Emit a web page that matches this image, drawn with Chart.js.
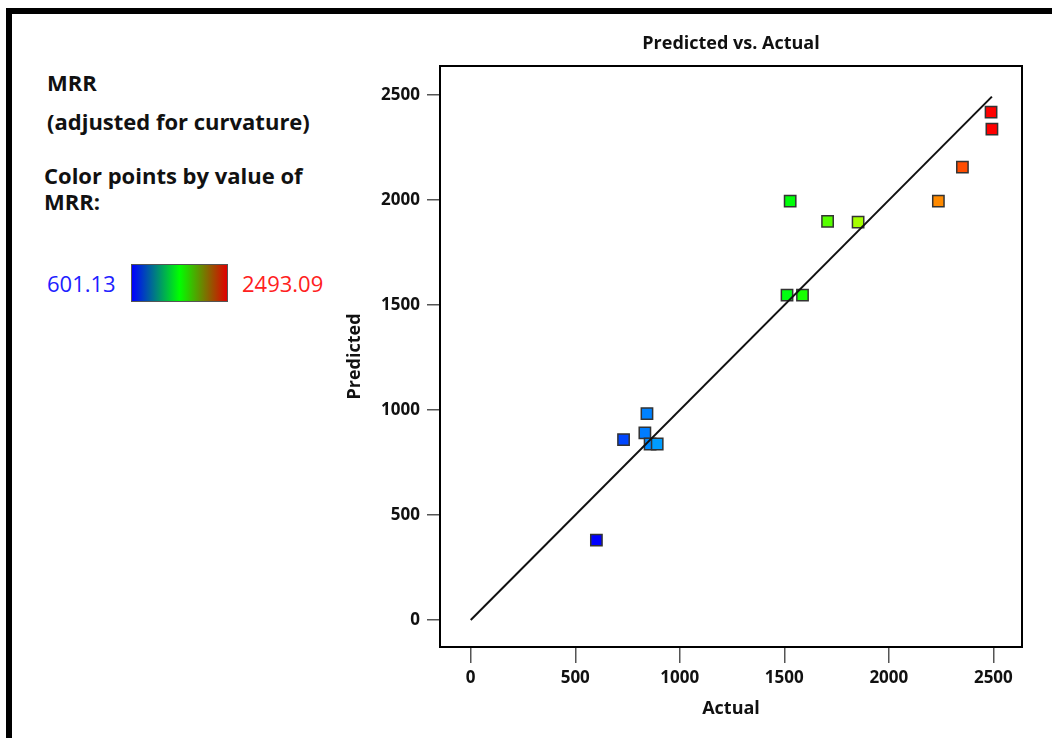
<!DOCTYPE html>
<html>
<head>
<meta charset="utf-8">
<title>Predicted vs. Actual</title>
<script src="https://cdn.jsdelivr.net/npm/chart.js@4.4.1/dist/chart.umd.min.js"></script>
<style>
  body { margin: 0; background: #fff; font-family: "Open Sans", sans-serif; }
  #page { position: relative; width: 1052px; height: 738px; overflow: hidden; background: #fff; }
  .frame { position: absolute; left: 6px; top: 8px; width: 1100px; height: 800px;
           border-top: 6px solid #000; border-left: 6px solid #000; }
  .lbl { position: absolute; white-space: nowrap; line-height: 1; color: #111; }
  .b { font-weight: 700; font-size: 22px; }
  .num { font-size: 22px; }
  .ramp { position: absolute; left: 131px; top: 264px; width: 95px; height: 36px;
          border: 1px solid #555; background: linear-gradient(to right, #0000ff, #00ff00, #e00000); }
  #chartPred { position: absolute; left: 330px; top: 20px; }
</style>
</head>
<body>
<div id="page">
  <div class="frame"></div>
  <div class="lbl b" style="left:47px;top:71px">MRR</div>
  <div class="lbl b" style="left:47px;top:110px">(adjusted for curvature)</div>
  <div class="lbl b" style="left:44px;top:164px">Color points by value of</div>
  <div class="lbl b" style="left:44px;top:190px">MRR:</div>
  <div class="lbl num" id="lowLbl" style="left:47px;top:272px;color:#2020ff"></div>
  <div class="ramp"></div>
  <div class="lbl num" id="highLbl" style="left:242px;top:272px;color:#ff2020"></div>
  <canvas id="chartPred" width="722" height="718"></canvas>
</div>
<script>
// MRR runs, actual vs predicted
const actual    = [601.13, 731, 843, 833, 858, 892, 1528, 1513, 1587, 1707, 1853, 2237, 2352, 2489, 2493.09];
const predicted = [380, 859, 983, 891, 838, 838, 1995, 1547, 1547, 1899, 1895, 1995, 2157, 2419, 2338];
const xTicks = [0, 500, 1000, 1500, 2000, 2500];
const yTicks = [0, 500, 1000, 1500, 2000, 2500];
const mrrMin = 601.13;
const mrrMax = 2493.09;
const fitLine = [0, 2493.09];

document.getElementById('lowLbl').textContent = mrrMin.toFixed(2);
document.getElementById('highLbl').textContent = mrrMax.toFixed(2);

// blue -> cyan -> green -> yellow -> red
function colorFor(v) {
    const stops = [[0,0,255],[0,255,255],[0,255,0],[255,255,0],[255,0,0]];
    let t = (v - mrrMin) / (mrrMax - mrrMin);
    t = Math.max(0, Math.min(1, t)) * 4;
    const i = Math.min(3, Math.floor(t));
    const f = t - i;
    const c = stops[i].map((a, k) => Math.round(a + (stops[i + 1][k] - a) * f));
    return 'rgb(' + c.join(',') + ')';
}

const points = actual.map((a, i) => ({ x: a, y: predicted[i] }));

const boxPlugin = {
    id: 'box',
    afterDraw(chart) {
        const { ctx, chartArea: a } = chart;
        ctx.save();
        ctx.strokeStyle = '#000';
        ctx.lineWidth = 2;
        ctx.strokeRect(a.left, a.top, a.right - a.left, a.bottom - a.top);
        ctx.fillStyle = '#111';
        ctx.font = 'bold 18px "Open Sans"';
        ctx.textAlign = 'center';
        ctx.textBaseline = 'middle';
        ctx.fillText('Predicted vs. Actual', (a.left + a.right) / 2, 24);
        ctx.restore();
    }
};

const tickFont = { family: '"Open Sans"', size: 17, weight: 'bold' };
const titleFont = { family: '"Open Sans"', size: 18, weight: 'bold' };

new Chart(document.getElementById('chartPred').getContext('2d'), {
    type: 'scatter',
    data: {
        datasets: [
            {
                data: points,
                pointStyle: 'rect',
                pointRadius: 8,
                pointHoverRadius: 8,
                backgroundColor: actual.map(colorFor),
                borderColor: '#333',
                borderWidth: 1.5,
                order: 1
            },
            {
                type: 'line',
                data: fitLine.map(v => ({ x: v, y: v })),
                borderColor: '#111',
                borderWidth: 2,
                pointRadius: 0,
                fill: false,
                order: 0
            }
        ]
    },
    plugins: [boxPlugin],
    options: {
        responsive: false,
        animation: false,
        layout: { padding: { top: 46, right: 30, left: 0, bottom: 0 } },
        plugins: {
            legend: { display: false },
            tooltip: { enabled: false }
        },
        scales: {
            x: {
                type: 'linear',
                min: -147,
                max: 2637,
                afterBuildTicks: s => { s.ticks = xTicks.map(v => ({ value: v })); },
                afterFit: s => { s.height = 91; },
                grid: { drawOnChartArea: false, tickLength: 16, color: '#555', lineWidth: 1.5 },
                border: { display: false },
                ticks: { font: tickFont, color: '#111', padding: 5, maxRotation: 0, callback: v => String(v) },
                title: { display: true, text: 'Actual', font: titleFont, color: '#111', padding: { top: 0, bottom: 18 } }
            },
            y: {
                type: 'linear',
                min: -129,
                max: 2639,
                afterBuildTicks: s => { s.ticks = yTicks.map(v => ({ value: v })); },
                afterFit: s => { s.width = 110; },
                grid: { drawOnChartArea: false, tickLength: 13, color: '#555', lineWidth: 1.5 },
                border: { display: false },
                ticks: { font: tickFont, color: '#111', padding: 7, callback: v => String(v) },
                title: { display: true, text: 'Predicted', font: titleFont, color: '#111', padding: { top: 14, bottom: 0 } }
            }
        }
    }
});
</script>
</body>
</html>
